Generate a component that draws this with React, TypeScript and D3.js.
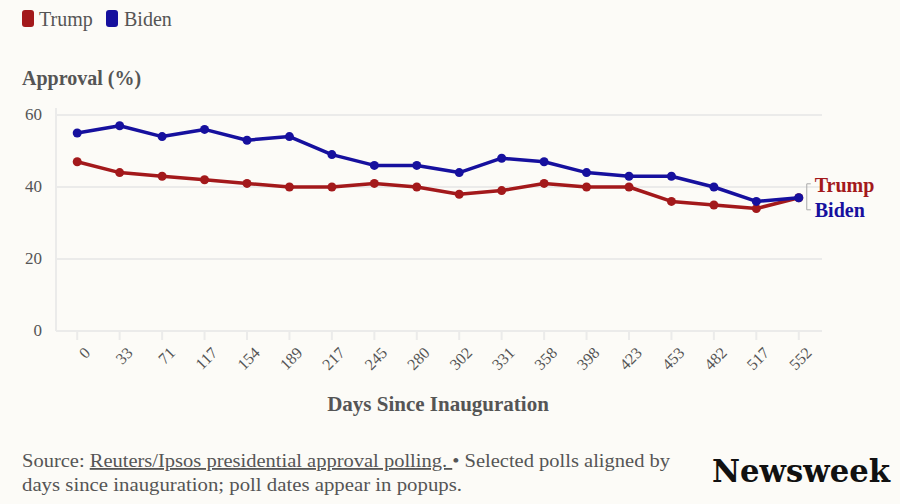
import * as d3 from 'd3';
import { useEffect, useRef } from 'react';

const days = ['0', '33', '71', '117', '154', '189', '217', '245', '280', '302', '331', '358', '398', '423', '453', '482', '517', '552'];
const trump = [47, 44, 43, 42, 41, 40, 40, 41, 40, 38, 39, 41, 40, 40, 36, 35, 34, 37];
const biden = [55, 57, 54, 56, 53, 54, 49, 46, 46, 44, 48, 47, 44, 43, 43, 40, 36, 37];
const yTicks = [0, 20, 40, 60];

const RED = '#a3191b';
const BLUE = '#16109e';
const FONT = '"Liberation Serif", "DejaVu Serif", serif';
const GREY = '#555';

export default function App() {
  const ref = useRef<SVGSVGElement | null>(null);

  useEffect(() => {
    const svg = d3.select(ref.current);
    svg.selectAll('*').remove();
    const width = 900;
    const height = 504;
    svg.append('rect').attr('width', width).attr('height', height).attr('fill', '#fcfbf7');

    // legend
    const legend = [
      { name: 'Trump', color: RED, x: 22, tx: 39 },
      { name: 'Biden', color: BLUE, x: 106, tx: 124 }
    ];
    legend.forEach((l) => {
      svg.append('rect').attr('x', l.x).attr('y', 10).attr('width', 12).attr('height', 17).attr('rx', 3).attr('fill', l.color);
      svg.append('text').attr('x', l.tx).attr('y', 26)
        .attr('font-family', FONT).attr('font-size', 20).attr('fill', GREY).text(l.name);
    });

    svg.append('text').attr('x', 22).attr('y', 85).attr('font-family', FONT).attr('font-size', 20)
      .attr('font-weight', 'bold').attr('fill', GREY).text('Approval (%)');

    const left = 56, right = 820, top = 115, bottom = 331;
    const x = d3.scalePoint<string>().domain(days).range([left, right]).padding(0.5);
    const y = d3.scaleLinear().domain([0, 60]).range([bottom, top]);

    const g = svg.append('g');
    // gridlines
    g.selectAll('line.grid').data(yTicks).enter().append('line')
      .attr('x1', left).attr('x2', right + 2).attr('y1', (d) => y(d)).attr('y2', (d) => y(d))
      .attr('stroke', '#ebebea').attr('stroke-width', 2);
    g.append('line').attr('x1', left).attr('x2', left).attr('y1', top - 7).attr('y2', bottom)
      .attr('stroke', '#ebebea').attr('stroke-width', 2);
    g.selectAll('text.ytick').data(yTicks).enter().append('text')
      .attr('x', 42).attr('y', (d) => y(d) + 5).attr('text-anchor', 'end')
      .attr('font-family', FONT).attr('font-size', 17).attr('fill', GREY).text((d) => d);

    // x ticks
    g.selectAll('line.xtick').data(days).enter().append('line')
      .attr('x1', (d) => x(d)!).attr('x2', (d) => x(d)!).attr('y1', bottom).attr('y2', bottom + 9)
      .attr('stroke', '#ebebea').attr('stroke-width', 2);
    g.selectAll('text.xlab').data(days).enter().append('text')
      .attr('transform', (d) => `translate(${x(d)! + 6},${bottom + 15}) rotate(-45)`)
      .attr('text-anchor', 'end').attr('dy', '0.7em')
      .attr('font-family', FONT).attr('font-size', 16).attr('fill', GREY).text((d) => d);

    svg.append('text').attr('x', 438).attr('y', 411).attr('text-anchor', 'middle')
      .attr('font-family', FONT).attr('font-size', 21).attr('font-weight', 'bold').attr('fill', GREY)
      .text('Days Since Inauguration');

    const line = d3.line<number>().x((_, i) => x(days[i])!).y((d) => y(d));
    const series = [
      { name: 'Trump', values: trump, color: RED },
      { name: 'Biden', values: biden, color: BLUE }
    ];
    series.forEach((s) => {
      g.append('path').attr('d', line(s.values)).attr('fill', 'none').attr('stroke', s.color)
        .attr('stroke-width', 3.5).attr('stroke-linejoin', 'round');
      g.selectAll(`circle.${s.name}`).data(s.values).enter().append('circle')
        .attr('cx', (_, i) => x(days[i])!).attr('cy', (d) => y(d)).attr('r', 4.5).attr('fill', s.color);
    });

    // end labels
    const lx = x(days[days.length - 1])! + 8;
    const ly = y(biden[biden.length - 1]);
    g.append('path').attr('d', `M${lx + 4},${ly - 14}H${lx}V${ly + 12}H${lx + 4}`)
      .attr('fill', 'none').attr('stroke', '#aaa').attr('stroke-width', 1);
    g.append('text').attr('x', lx + 8).attr('y', ly - 6).attr('font-family', FONT).attr('font-size', 20)
      .attr('font-weight', 'bold').attr('fill', RED).text('Trump');
    g.append('text').attr('x', lx + 8).attr('y', ly + 19).attr('font-family', FONT).attr('font-size', 20)
      .attr('font-weight', 'bold').attr('fill', BLUE).text('Biden');

    // footer
    const f1 = svg.append('text').attr('x', 22).attr('y', 467).attr('font-family', FONT)
      .attr('font-size', 18).attr('fill', GREY).attr('textLength', 648).attr('lengthAdjust', 'spacingAndGlyphs');
    f1.append('tspan').text('Source: ');
    f1.append('tspan').attr('text-decoration', 'underline').text('Reuters/Ipsos presidential approval polling. ');
    f1.append('tspan').text(' • Selected polls aligned by');
    svg.append('text').attr('x', 22).attr('y', 491).attr('font-family', FONT).attr('font-size', 18)
      .attr('fill', GREY).attr('textLength', 440).attr('lengthAdjust', 'spacingAndGlyphs')
      .text('days since inauguration; poll dates appear in popups.');

    svg.append('text').attr('transform', 'translate(712,482) scale(1,1.12)')
      .attr('font-family', '"DejaVu Serif", serif')
      .attr('font-size', 29).attr('font-weight', 'bold').attr('fill', '#111')
      .attr('textLength', 178).attr('lengthAdjust', 'spacingAndGlyphs').text('Newsweek');
  }, []);

  return (
    <div style={{ position: 'fixed', left: 0, top: 0, width: 900, height: 504, overflow: 'hidden' }}>
      <svg ref={ref} width={900} height={504} style={{ display: 'block' }} />
    </div>
  );
}
